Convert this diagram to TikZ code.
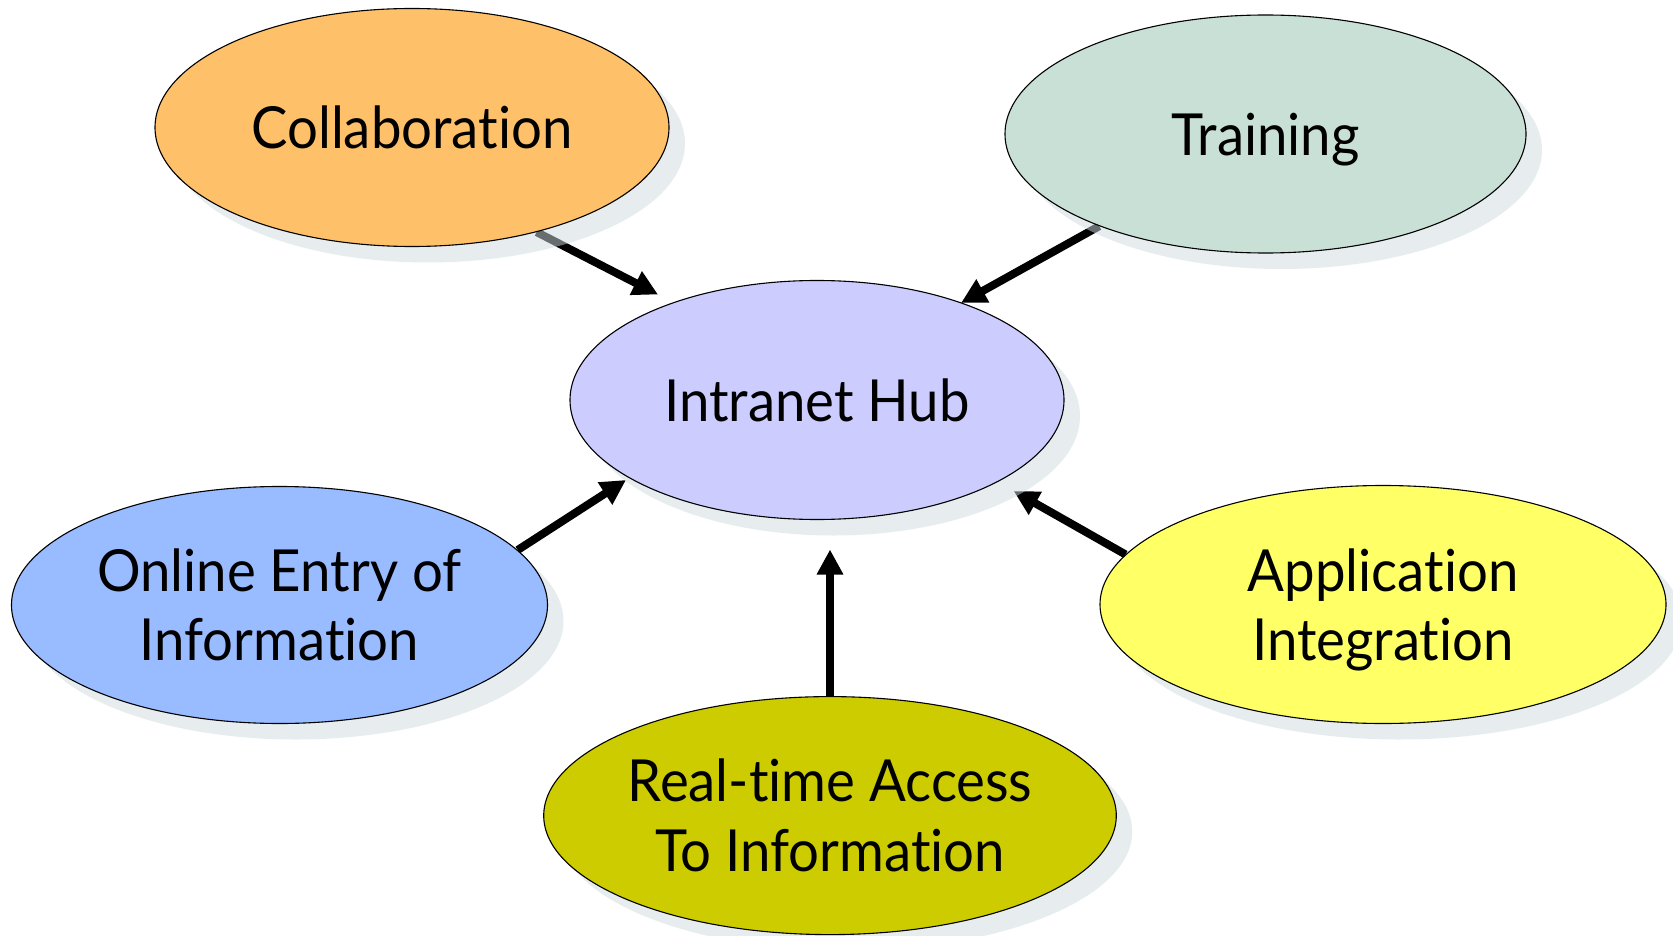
\documentclass[tikz,border=0pt]{standalone}
\usepackage{fontspec}
\setmainfont[Ligatures=NoCommon,FakeStretch=0.94]{Lato}
\usetikzlibrary{arrows.meta,shadows,backgrounds,shapes.geometric}
\definecolor{collabc}{HTML}{FEC068}
\definecolor{trainc}{HTML}{C9E0D6}
\definecolor{hubc}{HTML}{CCCCFF}
\definecolor{onlinec}{HTML}{99BBFF}
\definecolor{appc}{HTML}{FFFF66}
\definecolor{realc}{HTML}{CCCC00}
\definecolor{shadowc}{rgb}{0.82,0.866,0.882}
\newcommand{\nodepth}[1]{\raisebox{0pt}[\height][0pt]{#1}}
\begin{document}
\begin{tikzpicture}[x=1pt,y=-1pt,
  bubble/.style={ellipse, draw=black, line width=1.1pt, inner sep=0pt, align=center,
    font=\fontsize{58}{69.5}\selectfont,
    drop shadow={shadow xshift=16pt, shadow yshift=-16pt, fill=shadowc, opacity=0.5}},
  link/.style={line width=8pt, -{Triangle[length=25pt,width=25pt]}}]
\useasboundingbox (0,0) rectangle (1673,936);
\node[bubble, fill=collabc, minimum width=514pt, minimum height=238pt] (collab) at (412,127.5) {Collaboration};
\node[bubble, fill=trainc, minimum width=521pt, minimum height=238pt] (train) at (1265.5,134) {\nodepth{Training}};
\node[bubble, fill=hubc, minimum width=494pt, minimum height=239pt] (hub) at (817,400) {Intranet Hub};
\node[bubble, fill=onlinec, minimum width=536pt, minimum height=237pt] (online) at (279.5,605) {Online Entry of\\Information};
\node[bubble, fill=appc, minimum width=566pt, minimum height=238pt] (app) at (1383,604.5) {Application\\\nodepth{Integration}};
\node[bubble, fill=realc, minimum width=572pt, minimum height=238pt] (real) at (830,815.6) {Real-time Access\\To Information};
\coordinate (tipcollab) at (658,294.5);
\coordinate (tiptrain) at (961,303);
\coordinate (tiponline) at (626,480);
\coordinate (tipapp) at (1013.6,491);
\coordinate (tipreal) at (830,549.5);
\begin{pgfonlayer}{background}
\fill[white] (0,0) rectangle (1673,936);
\draw[link] (collab.-40.8) -- (tipcollab);
\draw[link] (train.-151.2) -- (tiptrain);
\draw[link] (online.13) -- (tiponline);
\draw[link] (app.169) -- (tipapp);
\draw[link] (real.90) -- (tipreal);
\end{pgfonlayer}
\end{tikzpicture}
\end{document}
